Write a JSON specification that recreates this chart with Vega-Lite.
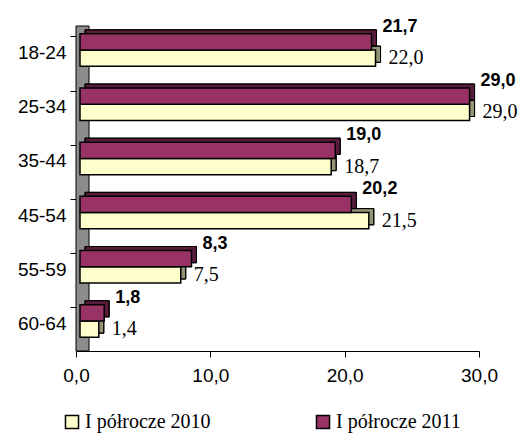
{
  "$schema": "https://vega.github.io/schema/vega-lite/v6.json",
  "width": 403,
  "height": 325,
  "autosize": {"type": "none"},
  "padding": {"left": 76, "top": 26, "right": 43, "bottom": 83},
  "background": "white",
  "config": {
    "locale": {"number": {"decimal": ",", "thousands": " ", "grouping": [3], "currency": ["", " zł"]}},
    "view": {"stroke": null},
    "font": "Liberation Sans"
  },
  "data": {
    "values": [
      {"age": "18-24", "series": "I półrocze 2010", "value": 22.0},
      {"age": "18-24", "series": "I półrocze 2011", "value": 21.7},
      {"age": "25-34", "series": "I półrocze 2010", "value": 29.0},
      {"age": "25-34", "series": "I półrocze 2011", "value": 29.0},
      {"age": "35-44", "series": "I półrocze 2010", "value": 18.7},
      {"age": "35-44", "series": "I półrocze 2011", "value": 19.0},
      {"age": "45-54", "series": "I półrocze 2010", "value": 21.5},
      {"age": "45-54", "series": "I półrocze 2011", "value": 20.2},
      {"age": "55-59", "series": "I półrocze 2010", "value": 7.5},
      {"age": "55-59", "series": "I półrocze 2011", "value": 8.3},
      {"age": "60-64", "series": "I półrocze 2010", "value": 1.4},
      {"age": "60-64", "series": "I półrocze 2011", "value": 1.8}
    ]
  },
  "layer": [
    {
      "data": {"values": [{"w0": 0, "w1": 0.97}]},
      "mark": {"type": "rect", "fill": "#8c8c8c", "stroke": "black", "strokeWidth": 1},
      "encoding": {
        "x": {"field": "w0", "type": "quantitative", "scale": {"domain": [0, 30]}, "title": null},
        "x2": {"field": "w1"}
      }
    },
    {
      "mark": {"type": "bar", "xOffset": 9, "x2Offset": 9, "stroke": "black", "strokeWidth": 1},
      "encoding": {
        "y": {"field": "age", "type": "nominal", "sort": ["18-24", "25-34", "35-44", "45-54", "55-59", "60-64"], "scale": {"paddingInner": 0.4, "paddingOuter": 0.2}, "title": null},
        "yOffset": {"field": "series", "sort": ["I półrocze 2011", "I półrocze 2010"], "scale": {"range": [-7, 25.5]}},
        "x": {"field": "value", "type": "quantitative", "scale": {"domain": [0, 30]}, "title": null},
        "color": {"field": "series", "type": "nominal"}
      }
    },
    {
      "mark": {"type": "bar", "xOffset": 9, "x2Offset": 9, "fill": "black", "fillOpacity": 0.42, "stroke": "black", "strokeWidth": 1},
      "encoding": {
        "y": {"field": "age", "type": "nominal", "sort": ["18-24", "25-34", "35-44", "45-54", "55-59", "60-64"]},
        "yOffset": {"field": "series", "sort": ["I półrocze 2011", "I półrocze 2010"], "scale": {"range": [-7, 25.5]}},
        "x": {"field": "value", "type": "quantitative"}
      }
    },
    {
      "mark": {"type": "bar", "xOffset": 4, "x2Offset": 4, "stroke": "black", "strokeWidth": 1.5},
      "encoding": {
        "y": {"field": "age", "type": "nominal", "sort": ["18-24", "25-34", "35-44", "45-54", "55-59", "60-64"],
          "axis": {"bandPosition": 0, "tickSize": 6, "tickColor": "black", "domainColor": "black", "labelFontSize": 19, "labelColor": "black", "labelPadding": 4, "labelFont": "Liberation Sans"}},
        "yOffset": {"field": "series", "sort": ["I półrocze 2011", "I półrocze 2010"], "scale": {"range": [-3, 29.5]}},
        "x": {"field": "value", "type": "quantitative",
          "axis": {"values": [0, 10, 20, 30], "format": ".1f", "grid": false, "labelFlush": false, "tickSize": 6, "tickColor": "black", "domainColor": "black", "labelFontSize": 19, "labelColor": "black", "labelPadding": 9, "labelFont": "Liberation Sans"}},
        "color": {"field": "series", "type": "nominal", "scale": {"domain": ["I półrocze 2010", "I półrocze 2011"], "range": ["#FFFFCC", "#993366"]},
          "legend": {"orient": "none", "legendX": -14, "legendY": 386, "direction": "horizontal", "title": null, "symbolType": "square", "symbolSize": 170, "symbolStrokeColor": "black", "symbolStrokeWidth": 1.5, "labelFont": "Liberation Serif", "labelFontSize": 20, "labelColor": "black", "labelOffset": 3, "columnPadding": 102, "labelLimit": 300}}
      }
    },
    {
      "transform": [{"filter": "datum.series == 'I półrocze 2011'"}],
      "mark": {"type": "text", "align": "left", "baseline": "middle", "dx": 15, "dy": -18, "fontWeight": "bold", "fontSize": 18, "font": "Liberation Sans", "color": "black"},
      "encoding": {
        "y": {"field": "age", "type": "nominal", "sort": ["18-24", "25-34", "35-44", "45-54", "55-59", "60-64"]},
        "yOffset": {"field": "series", "scale": {"domain": ["I półrocze 2011", "I półrocze 2010"]}},
        "x": {"field": "value", "type": "quantitative"},
        "text": {"field": "value", "type": "quantitative", "format": ".1f"}
      }
    },
    {
      "transform": [{"filter": "datum.series == 'I półrocze 2010'"}],
      "mark": {"type": "text", "align": "left", "baseline": "middle", "dx": 17, "dy": -3, "fontSize": 20, "font": "Liberation Serif", "color": "black"},
      "encoding": {
        "y": {"field": "age", "type": "nominal", "sort": ["18-24", "25-34", "35-44", "45-54", "55-59", "60-64"]},
        "yOffset": {"field": "series", "scale": {"domain": ["I półrocze 2011", "I półrocze 2010"]}},
        "x": {"field": "value", "type": "quantitative"},
        "text": {"field": "value", "type": "quantitative", "format": ".1f"}
      }
    }
  ],
  "resolve": {"scale": {"yOffset": "independent"}}
}
